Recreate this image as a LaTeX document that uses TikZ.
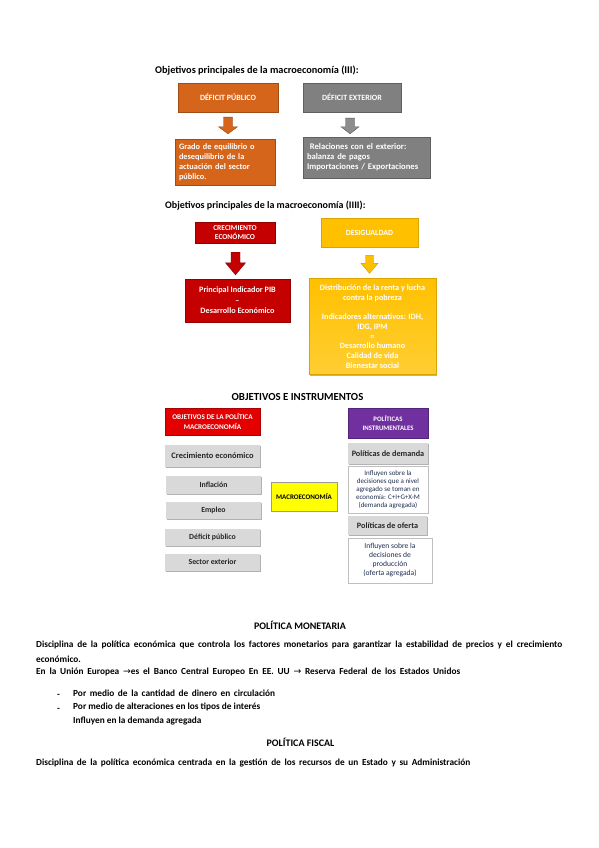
\documentclass[tikz,border=0pt]{standalone}
\usepackage{fontspec}
\setmainfont{Carlito}
\newfontfamily\djv{DejaVu Sans}
\usetikzlibrary{calc,shadows}
\definecolor{corange}{RGB}{214,101,28}
\definecolor{cgray}{RGB}{128,128,128}
\definecolor{cdred}{RGB}{196,0,0}
\definecolor{cyellow}{RGB}{255,192,0}
\definecolor{cyellowl}{RGB}{255,206,50}
\definecolor{cred}{RGB}{228,0,0}
\definecolor{cpurple}{RGB}{112,48,160}
\definecolor{clgray}{RGB}{217,217,217}
\definecolor{cyel}{RGB}{255,255,0}
\definecolor{cnavy}{RGB}{30,45,80}
\newcommand\fs[2]{\fontsize{#1}{#2}\selectfont}
\newcommand\spread[2]{\makebox[#1pt][s]{#2}}
\newcommand\barrow[6]{%
  \path let \p1=(#1), \p2=(#2) in [#6]
  (\x1-#3pt,\y1) -- (\x1+#3pt,\y1) -- (\x1+#3pt,\y2+#5pt) -- (\x1+#4pt,\y2+#5pt)
  -- (\x1,\y2) -- (\x1-#4pt,\y2+#5pt) -- (\x1-#3pt,\y2+#5pt) -- cycle;}
\tikzset{
  shad/.style={drop shadow={shadow xshift=1.2pt,shadow yshift=-1.2pt,opacity=0.3,fill=black}},
  ttl/.style={font=\bfseries\fs{10}{11}, inner sep=0},
  cbox/.style={draw=#1!75!black, fill=#1, inner sep=0, align=center, text=white, shad},
  gbox/.style={fill=clgray, inner sep=0, align=center, text=black!85, font=\bfseries\fs{7.8}{9}, shad},
  wbox/.style={draw=black!25, fill=white, inner sep=0, align=center, text=cnavy, shad},
  body/.style={font=\bfseries\fs{9.3}{11}, inner sep=0, anchor=west},
  bhead/.style={font=\bfseries\fs{10}{11}, inner sep=0}
}
\begin{document}
\begin{tikzpicture}[x=1pt,y=-1pt]
\useasboundingbox[fill=white] (0,0) rectangle (599,848);
% ---------- section 1
\node[ttl, anchor=west, font=\bfseries\fs{10.3}{11}] (t1) at (155,71) {Objetivos principales de la macroeconomía (III):};
\node[cbox=corange, minimum width=100, minimum height=29, font=\bfseries\fs{8}{9}] (dp) at (228,97.5) {DÉFICIT PÚBLICO};
\node[cbox=cgray, minimum width=98, minimum height=29, font=\bfseries\fs{8}{9}] (de) at (352,97.5) {DÉFICIT EXTERIOR};
\node[cbox=corange, minimum width=100, minimum height=46, text width=92, align=left, font=\bfseries\fs{8.3}{10}] (gr) at (225,162)
  {Grado de equilibrio o\\desequilibrio de la\\actuación del sector\\público.};
\node[cbox=cgray, minimum width=127, minimum height=41, text width=119, align=left, font=\bfseries\fs{8.6}{10}] (rel) at (366.5,157.5)
  {\ Relaciones con el exterior:\\balanza de pagos\\Importaciones / Exportaciones};
\barrow{$(dp.south)+(0,5)$}{$(gr.north)+(0,-5)$}{4.5}{9.5}{7}{fill=corange, draw=corange!70!black, line width=0.4pt}
\barrow{$(de.south)+(-2,6)$}{$(rel.north)+(0,-3)$}{4.5}{9}{7}{fill=cgray!90, draw=cgray!70!black, line width=0.4pt}
% ---------- section 2
\node[ttl, anchor=west] (t2) at (165,206) {Objetivos principales de la macroeconomía (IIII):};
\node[cbox=cdred, minimum width=80, minimum height=21, font=\bfseries\fs{7.5}{9.5}] (cr) at (235,232.5) {CRECIMIENTO\\ECONÓMICO};
\node[cbox=cyellow, draw=cyellow!85!black, minimum width=97, minimum height=29, font=\bfseries\fs{7.9}{9}] (ds) at (369.5,232.5) {DESIGUALDAD};
\node[cbox=cdred, minimum width=105, minimum height=43, font=\bfseries\fs{8.2}{10.5}] (pib) at (237.5,300.5)
  {Principal Indicador PIB\\–\\Desarrollo Económico};
\node[cbox=cyellow, draw=cyellow!85!black, top color=cyellow, bottom color=cyellowl, minimum width=127, minimum height=96, font=\bfseries\fs{8.2}{9.75}] (yb) at (372.5,326.5)
  {Distribución de la renta y lucha\\contra la pobreza\\[9.75pt]Indicadores alternativos: IDH,\\IDG, IPM\\=\\Desarrollo humano\\Calidad de vida\\Bienestar social};
\barrow{$(cr.south)+(0.5,9)$}{$(pib.north)+(0,-4)$}{4.5}{10}{12}{fill=cdred, draw=cdred!70!black, line width=0.4pt}
\barrow{$(ds.south)+(0,8)$}{$(yb.north)+(0,-5)$}{4}{8.5}{10}{fill=cyellow, draw=cyellow!80!black, line width=0.4pt}
% ---------- section 3
\node[ttl, font=\bfseries\fs{10.8}{12}] (t3) at (297.5,397) {OBJETIVOS E INSTRUMENTOS};
\node[cbox=cred, minimum width=95, minimum height=27, font=\bfseries\fs{7.2}{9.5}] (obj) at (212.5,421.5) {OBJETIVOS DE LA POLÍTICA\\MACROECONOMÍA};
\node[cbox=cpurple, minimum width=80, minimum height=30, font=\bfseries\fs{6.8}{9.5}] (pol) at (388,423) {POLÍTICAS\\INSTRUMENTALES};
\node[gbox, minimum width=95, minimum height=22, font=\bfseries\fs{8.4}{9}] (g1) at (212.5,456) {Crecimiento económico};
\node[gbox, minimum width=95, minimum height=18] (g2) at (213.5,485) {Inflación};
\node[gbox, minimum width=95, minimum height=17] (g3) at (213.5,510) {Empleo};
\node[gbox, minimum width=95, minimum height=17] (g4) at (212.5,537) {Déficit público};
\node[gbox, minimum width=95, minimum height=17] (g5) at (212.5,562) {Sector exterior};
\node[draw=black!40, fill=cyel, inner sep=0, minimum width=66, minimum height=29, font=\bfseries\fs{7}{8}, shad] (mac) at (304,496.5) {MACROECONOMÍA};
\node[gbox, minimum width=80, minimum height=21, font=\bfseries\fs{8.2}{9}] (pd) at (388,453.5) {Políticas de demanda};
\node[wbox, minimum width=80, minimum height=47, font=\fs{7}{8}] (wd) at (388,489.5)
  {Influyen sobre la\\decisiones que a nivel\\agregado se toman en\\economía: C+I+G+X-M\\(demanda agregada)};
\node[gbox, minimum width=79, minimum height=19, font=\bfseries\fs{8.2}{9}] (po) at (387.5,525.5) {Políticas de oferta};
\node[wbox, minimum width=84, minimum height=45, font=\fs{7.6}{9}] (wo) at (390,560.5)
  {Influyen sobre la\\decisiones de\\producción\\(oferta agregada)};
% ---------- text
\node[bhead] (pm) at (300,625) {POLÍTICA MONETARIA};
\node[body] (l1) at (36,645) {\spread{526}{Disciplina de la política económica que controla los factores monetarios para garantizar la estabilidad de precios y el crecimiento}};
\node[body] (l2) at (36,659) {económico.};
\node[body] (l3) at (36,672) {\spread{424}{En la Unión Europea {\djv\mdseries →}es el Banco Central Europeo En EE. UU {\djv\mdseries →} Reserva Federal de los Estados Unidos}};
\node[body] (d1) at (57,695.5) {-};
\node[body] (b1) at (73,693) {\spread{202}{Por medio de la cantidad de dinero en circulación}};
\node[body] (d2) at (57,709.5) {-};
\node[body] (b2) at (73,707) {Por medio de alteraciones en los tipos de interés};
\node[body] (b3) at (73,721) {Influyen en la demanda agregada};
\node[bhead] (pf) at (300.5,742) {POLÍTICA FISCAL};
\node[body] (l5) at (36,763) {\spread{434}{Disciplina de la política económica centrada en la gestión de los recursos de un Estado y su Administración}};
\end{tikzpicture}
\end{document}
